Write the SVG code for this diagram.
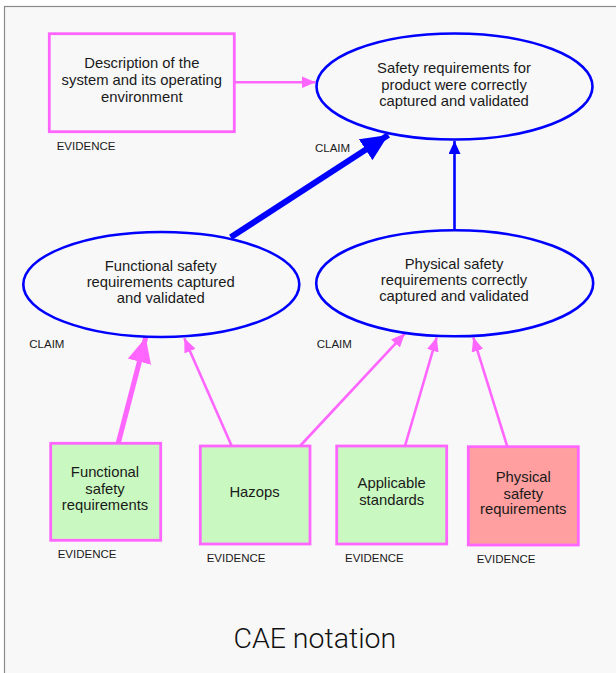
<svg xmlns="http://www.w3.org/2000/svg" width="616" height="673" viewBox="0 0 616 673">
<style>
.t{font-family:"Liberation Sans",Arial,sans-serif;font-size:14.8px;fill:#1a1a1a;text-anchor:middle}
.lbl{font-family:"Liberation Sans",Arial,sans-serif;font-size:11.5px;fill:#1a1a1a}
.claim{fill:none;stroke:#0000ff;stroke-width:2.6}
.ev{stroke:#ff66ff;stroke-width:2.8}
.pk{stroke:#ff66ff;fill:none}
.bl{stroke:#0000ff;fill:none}
</style>
<defs>
<marker id="ahp" markerUnits="userSpaceOnUse" viewBox="0 0 14 12" refX="14" refY="6" markerWidth="14" markerHeight="12" orient="auto"><path d="M0,0 L14,6 L0,12 z" fill="#ff66ff"/></marker>
<marker id="ahb" markerUnits="userSpaceOnUse" viewBox="0 0 13 12" refX="13" refY="6" markerWidth="13" markerHeight="12" orient="auto"><path d="M0,0 L13,6 L0,12 z" fill="#0000ff"/></marker>
<marker id="ahpT" markerUnits="userSpaceOnUse" viewBox="0 0 25 24" refX="25" refY="12" markerWidth="25" markerHeight="24" orient="auto"><path d="M0,0 L25,12 L0,24 z" fill="#ff66ff"/></marker>
<marker id="ahbT" markerUnits="userSpaceOnUse" viewBox="0 0 27 25" refX="27" refY="12.5" markerWidth="27" markerHeight="25" orient="auto"><path d="M0,0 L27,12.5 L0,25 z" fill="#0000ff"/></marker>
</defs>
<rect x="0" y="0" width="616" height="673" fill="#ffffff"/>
<rect x="4.5" y="6.5" width="700" height="700" fill="#f8f8f8" stroke="#8a8a8a" stroke-width="1.2"/>

<g id="connectors">
<line class="pk" stroke-width="2.6" x1="234.3" y1="82.3" x2="315.5" y2="82.3" marker-end="url(#ahp)"/>
<line class="bl" stroke-width="6" x1="230.7" y1="237.3" x2="388.3" y2="135" marker-end="url(#ahbT)"/>
<line class="bl" stroke-width="2.6" x1="454.5" y1="230.3" x2="454.5" y2="141" marker-end="url(#ahb)"/>
<line class="pk" stroke-width="5" x1="118.3" y1="443" x2="145.7" y2="337.5" marker-end="url(#ahpT)"/>
<line class="pk" stroke-width="2.6" x1="231.7" y1="446" x2="184.3" y2="338.3" marker-end="url(#ahp)"/>
<line class="pk" stroke-width="2.6" x1="300" y1="446" x2="405" y2="333.3" marker-end="url(#ahp)"/>
<line class="pk" stroke-width="2.6" x1="405" y1="446" x2="436.7" y2="337.3" marker-end="url(#ahp)"/>
<line class="pk" stroke-width="2.6" x1="507.3" y1="446.7" x2="473.3" y2="337.3" marker-end="url(#ahp)"/>
</g>

<g id="desc">
<rect class="ev" x="49.3" y="33.7" width="185" height="98" fill="#f8f8f8"/>
<text class="t" x="141.8" y="68.3">Description of the</text>
<text class="t" x="141.8" y="85">system and its operating</text>
<text class="t" x="141.8" y="101.7">environment</text>
<text class="lbl" x="56.7" y="150">EVIDENCE</text>
</g>

<g id="claim-top">
<ellipse class="claim" cx="454.5" cy="86.5" rx="138" ry="53"/>
<text class="t" x="454" y="73.3">Safety requirements for</text>
<text class="t" x="454" y="90">product were correctly</text>
<text class="t" x="454" y="105.7">captured and validated</text>
<text class="lbl" x="315" y="151.7">CLAIM</text>
</g>

<g id="claim-functional">
<ellipse class="claim" cx="161.3" cy="284.5" rx="138" ry="52.5"/>
<text class="t" x="160.7" y="270.7">Functional safety</text>
<text class="t" x="160.7" y="287.3">requirements captured</text>
<text class="t" x="160.7" y="303.3">and validated</text>
<text class="lbl" x="29.3" y="348.3">CLAIM</text>
</g>

<g id="claim-physical">
<ellipse class="claim" cx="454.7" cy="283.3" rx="138.5" ry="53"/>
<text class="t" x="454" y="269.3">Physical safety</text>
<text class="t" x="454" y="285">requirements correctly</text>
<text class="t" x="454" y="301">captured and validated</text>
<text class="lbl" x="316.7" y="347.7">CLAIM</text>
</g>

<g id="ev-fsr">
<rect class="ev" x="50.7" y="443.3" width="110" height="97" fill="#c9f9c0"/>
<text class="t" x="105" y="477.3">Functional</text>
<text class="t" x="105" y="494">safety</text>
<text class="t" x="105" y="510">requirements</text>
<text class="lbl" x="57.7" y="558.3">EVIDENCE</text>
</g>

<g id="ev-hazops">
<rect class="ev" x="200.3" y="446" width="109.7" height="98" fill="#c9f9c0"/>
<text class="t" x="254.5" y="497.3">Hazops</text>
<text class="lbl" x="206.7" y="561.7">EVIDENCE</text>
</g>

<g id="ev-standards">
<rect class="ev" x="336.7" y="446" width="110" height="98" fill="#c9f9c0"/>
<text class="t" x="391.7" y="488.3">Applicable</text>
<text class="t" x="391.7" y="505">standards</text>
<text class="lbl" x="345" y="561.7">EVIDENCE</text>
</g>

<g id="ev-physical">
<rect class="ev" x="468.3" y="446.7" width="110" height="98.3" fill="#ff9f9f"/>
<text class="t" x="523.3" y="481.7">Physical</text>
<text class="t" x="523.3" y="499.3">safety</text>
<text class="t" x="523.3" y="514.3">requirements</text>
<text class="lbl" x="476.7" y="562.7">EVIDENCE</text>
</g>

<text x="314.8" y="647.7" font-family="Roboto, 'Liberation Sans', sans-serif" font-weight="300" font-size="28.5" fill="#111" text-anchor="middle">CAE notation</text>
</svg>
